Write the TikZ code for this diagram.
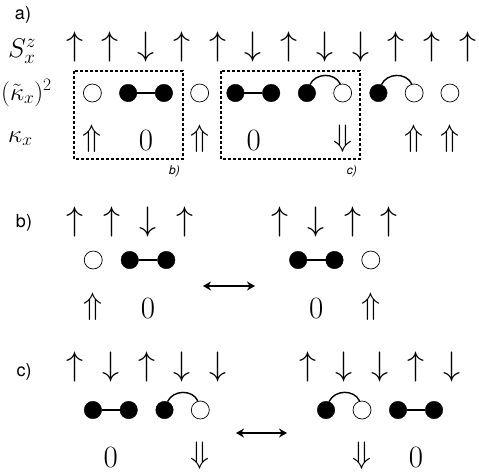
\RequirePackage{fix-cm}
\documentclass[tikz,border=0pt]{standalone}
\usepackage{fontspec}
\newfontfamily\hv{TeX Gyre Heros}
\usetikzlibrary{arrows.meta}
\begin{document}
\begin{tikzpicture}[x=1pt,y=-1pt,
 spin/.style={inner sep=0pt, font=\fontsize{34}{34}\selectfont},
 kap/.style={inner sep=0pt, font=\fontsize{31}{31}\selectfont},
 fc/.style={circle, draw, fill=black, minimum size=17.5pt, inner sep=0pt},
 oc/.style={circle, draw, fill=white, line width=0.7pt, minimum size=18pt, inner sep=0pt},
 bond/.style={line width=1.4pt},
 loopbond/.style={line width=1.4pt},
 dbox/.style={draw, line width=1.1pt, dash pattern=on 3pt off 2pt},
 plabel/.style={font=\hv\fontsize{18}{18}\selectfont, inner sep=0pt},
 blabel/.style={font=\hv\itshape\fontsize{12}{12}\selectfont, inner sep=0pt},
 rowlab/.style={inner sep=0pt, anchor=base west},
 swap/.style={{Stealth[length=8pt,width=9pt]}-{Stealth[length=8pt,width=9pt]}, line width=1.6pt}
]
\useasboundingbox (0,0) rectangle (479,472);

% ---------------- panel a ----------------
\node[plabel] (la) at (23,15) {a)};
\node[rowlab, font=\fontsize{27}{27}\selectfont] (lS) at (8,57) {$S^z_x$};
\node[rowlab, font=\fontsize{25}{25}\selectfont] (lK2) at (1,100) {$(\tilde\kappa_x)^2$};
\node[rowlab, font=\fontsize{25}{25}\selectfont] (lK) at (8,142) {$\kappa_x$};

\foreach \s [count=\i] in {\uparrow,\uparrow,\downarrow,\uparrow,\uparrow,\downarrow,\uparrow,\downarrow,\downarrow,\uparrow,\uparrow,\uparrow}
  \node[spin] (sa\i) at ({74.5+35.75*(\i-1)},47) {$\s$};
\foreach \t [count=\i] in {oc,fc,fc,oc,fc,fc,fc,oc,fc,oc,oc}
  \node[\t] (ca\i) at ({92.4+35.75*(\i-1)},93) {};
\draw[bond] (ca2) -- (ca3);
\draw[bond] (ca5) -- (ca6);
\draw[loopbond] (ca7.70) to[out=65,in=115,looseness=1.1] (ca8.105);
\draw[loopbond] (ca9.70) to[out=65,in=115,looseness=1.1] (ca10.105);

\node[kap] (ka1) at (92.4,139) {$\Uparrow$};
\node[kap] (ka2) at (146,141) {$0$};
\node[kap] (ka3) at (199.6,139) {$\Uparrow$};
\node[kap] (ka4) at (253.75,141) {$0$};
\node[kap] (ka5) at (342.6,139) {$\Downarrow$};
\node[kap] (ka6) at (414.1,139) {$\Uparrow$};
\node[kap] (ka7) at (449.9,139) {$\Uparrow$};

\draw[dbox] (74,71) rectangle (183,159);
\draw[dbox] (221,71) rectangle (360,159);
\node[blabel, anchor=east] (lb) at (180,171) {b)};
\node[blabel, anchor=east] (lc) at (357,171) {c)};

% ---------------- panel b ----------------
\node[plabel] (pb) at (24,223) {b)};
\foreach \s [count=\i] in {\uparrow,\uparrow,\downarrow,\uparrow}
  \node[spin] (sbl\i) at ({75+36.5*(\i-1)},222) {$\s$};
\foreach \t [count=\i] in {oc,fc,fc}
  \node[\t] (cbl\i) at ({93.25+36.5*(\i-1)},260) {};
\draw[bond] (cbl2) -- (cbl3);
\node[kap] (kbl1) at (93.25,307) {$\Uparrow$};
\node[kap] (kbl2) at (148,309) {$0$};

\foreach \s [count=\i] in {\uparrow,\downarrow,\uparrow,\uparrow}
  \node[spin] (sbr\i) at ({280+36.3*(\i-1)},222) {$\s$};
\foreach \t [count=\i] in {fc,fc,oc}
  \node[\t] (cbr\i) at ({298.15+36.3*(\i-1)},260) {};
\draw[bond] (cbr1) -- (cbr2);
\node[kap] (kbr1) at (316.3,309) {$0$};
\node[kap] (kbr2) at (370.75,307) {$\Uparrow$};

\coordinate (bsl) at (203,286);
\coordinate (bsr) at (255,286);
\draw[swap] (bsl) -- (bsr);

% ---------------- panel c ----------------
\node[plabel] (pc) at (24,372) {c)};
\foreach \s [count=\i] in {\uparrow,\downarrow,\uparrow,\downarrow,\downarrow}
  \node[spin] (scl\i) at ({75+35.8*(\i-1)},367) {$\s$};
\foreach \t [count=\i] in {fc,fc,fc,oc}
  \node[\t] (ccl\i) at ({92.9+35.8*(\i-1)},410) {};
\draw[bond] (ccl1) -- (ccl2);
\draw[loopbond] (ccl3.70) to[out=65,in=115,looseness=1.1] (ccl4.105);
\node[kap] (kcl1) at (110.8,457) {$0$};
\node[kap] (kcl2) at (200.3,456) {$\Downarrow$};

\foreach \s [count=\i] in {\uparrow,\downarrow,\downarrow,\uparrow,\downarrow}
  \node[spin] (scr\i) at ({308+36*(\i-1)},367) {$\s$};
\foreach \t [count=\i] in {fc,oc,fc,fc}
  \node[\t] (ccr\i) at ({326+36*(\i-1)},410) {};
\draw[loopbond] (ccr1.70) to[out=65,in=115,looseness=1.1] (ccr2.105);
\draw[bond] (ccr3) -- (ccr4);
\node[kap] (kcr1) at (362,456) {$\Downarrow$};
\node[kap] (kcr2) at (416,457) {$0$};

\coordinate (csl) at (236,433);
\coordinate (csr) at (287,433);
\draw[swap] (csl) -- (csr);
\end{tikzpicture}
\end{document}
